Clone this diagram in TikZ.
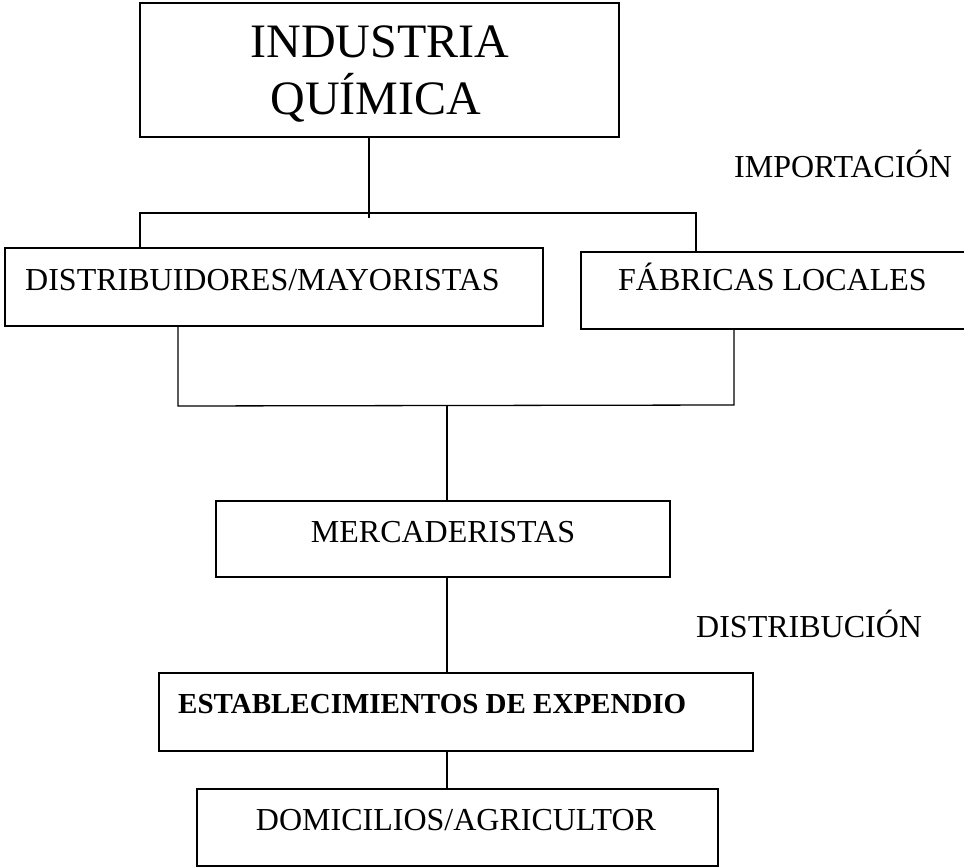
\documentclass[tikz,border=0pt]{standalone}
\usepackage{fontspec}
\setmainfont{Liberation Serif}
\begin{document}
\begin{tikzpicture}[x=1pt,y=-1pt,
  box/.style={draw, line width=1.3pt, inner sep=0pt},
  conn/.style={line width=1.3pt},
  lblw/.style={anchor=base west, inner sep=0pt, font=\fontsize{32}{38}\selectfont},
  lblc/.style={anchor=base, inner sep=0pt, font=\fontsize{32}{38}\selectfont},
  big/.style={anchor=base, inner sep=0pt, font=\fontsize{48}{56}\selectfont}]
\useasboundingbox (0,0) rectangle (964,867);
% boxes
\node[box, minimum width=479pt, minimum height=134pt] (ind) at (379.5,70) {};
\node[box, minimum width=538pt, minimum height=78pt] (dist) at (274,287) {};
\node[box, minimum width=394pt, minimum height=77pt] (fab) at (778,290.5) {};
\node[box, minimum width=454pt, minimum height=76pt] (merc) at (443,539) {};
\node[box, minimum width=594pt, minimum height=78pt] (est) at (456,712) {};
\node[box, minimum width=521pt, minimum height=77pt] (dom) at (457.5,827.5) {};
% texts
\node[big] (t1) at (380,58) {INDUSTRIA};
\node[big] (t2) at (376,114) {QUÍMICA};
\node[lblw] (imp) at (734,177) {IMPORTACIÓN};
\node[lblw] (tdist) at (25,290) {DISTRIBUIDORES/MAYORISTAS};
\node[lblw] (tfab) at (618,290) {FÁBRICAS LOCALES};
\node[lblc] (tmerc) at (443,542) {MERCADERISTAS};
\node[lblw] (distr) at (696,637) {DISTRIBUCIÓN};
\node[anchor=base west, inner sep=0pt, font=\fontsize{29}{35}\selectfont\bfseries] (test) at (178,713) {ESTABLECIMIENTOS DE EXPENDIO};
\node[lblc] (tdom) at (456,830) {DOMICILIOS/AGRICULTOR};
% connectors
\coordinate (j1) at (369,218);
\coordinate (bl) at (140,213);
\coordinate (br) at (696,213);
\coordinate (cl) at (178,406);
\coordinate (cr) at (734,405);
\coordinate (cm) at (447,405);
\draw[conn] (ind.south -| j1) -- (j1);
\draw[conn] (dist.north -| bl) -- (bl) -- (br) -- (fab.north -| br);
\draw[conn] (dist.south -| cl) -- (cl) -- (cr) -- (fab.south -| cr);
\draw[conn] (cm) -- (merc.north -| cm);
\draw[conn] (merc.south -| cm) -- (est.north -| cm);
\draw[conn] (est.south -| cm) -- (dom.north -| cm);
\end{tikzpicture}
\end{document}
